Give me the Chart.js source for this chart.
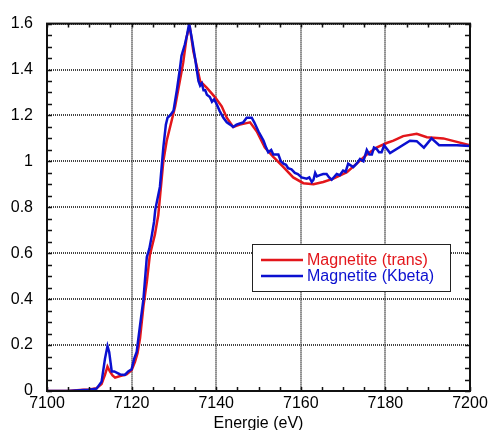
<!DOCTYPE html>
<html>
<head>
<meta charset="utf-8">
<script src="https://cdn.jsdelivr.net/npm/chart.js@4.4.0/dist/chart.umd.min.js"></script>
<style>
  html, body { margin: 0; padding: 0; background: #fff; }
</style>
</head>
<body>
<canvas id="xanes" width="488" height="430"></canvas>
<script>
// Fe K-edge XANES, magnetite: transmission vs Kbeta-detected
const transE = [
  7100, 7105, 7108.5, 7110, 7111.7, 7112.9, 7113.7, 7114.3, 7114.9, 7115.5,
  7116.1, 7117.3, 7118.8, 7120, 7120.8, 7121.4, 7122, 7122.8, 7123.6, 7124.3,
  7125.5, 7126.3, 7127.5, 7128.3, 7129.1, 7130.3, 7131.4, 7132.2, 7133, 7133.4,
  7133.8, 7134.6, 7136.2, 7137.8, 7139.7, 7141.3, 7142.5, 7144, 7145.6, 7148,
  7149.6, 7151.5, 7153.5, 7155.9, 7158.2, 7160.6, 7163, 7165.3, 7167.7, 7170.9,
  7173.2, 7175.6, 7177.9, 7180.3, 7181.9, 7184.2, 7187.4, 7189.8, 7193.7, 7196.9,
  7200
];
const transMu = [
  0, 0, 0.005, 0.007, 0.012, 0.03, 0.07, 0.106, 0.084, 0.068,
  0.058, 0.065, 0.072, 0.09, 0.127, 0.164, 0.23, 0.37, 0.475, 0.59,
  0.68, 0.765, 1.0, 1.09, 1.15, 1.24, 1.35, 1.43, 1.54, 1.57,
  1.58, 1.48, 1.35, 1.32, 1.28, 1.24, 1.19, 1.15, 1.16, 1.17,
  1.13, 1.06, 1.02, 0.975, 0.93, 0.905, 0.9, 0.91, 0.925, 0.953,
  0.99, 1.03, 1.06, 1.08, 1.09, 1.11, 1.12, 1.105, 1.1, 1.085,
  1.07
];

const kbetaE = [
  7100, 7105, 7109.8, 7111.7, 7112.9, 7113.7, 7114.3, 7114.7, 7115.3, 7115.9,
  7117.3, 7118.4, 7119.2, 7120, 7120.6, 7121.2, 7122, 7122.8, 7123.6, 7124.2,
  7124.8, 7125.3, 7125.6, 7126.7, 7127.5, 7128.1, 7128.5, 7129.1, 7129.9, 7130.7,
  7131.4, 7131.8, 7132.6, 7133.1, 7133.4, 7133.6, 7133.9, 7134.2, 7135, 7135.8,
  7136.2, 7136.6, 7137, 7137.4, 7137.8, 7138.5, 7139, 7139.5, 7140.1, 7140.8,
  7141.7, 7142.5, 7143.3, 7144, 7144.8, 7145.6, 7146.4, 7147.2, 7147.6, 7148.4,
  7149, 7150, 7150.6, 7151.2, 7151.8, 7152.3, 7153, 7153.5, 7154.2, 7154.7,
  7155.3, 7155.9, 7156.5, 7157, 7157.8, 7158.6, 7159.3, 7160.2, 7161.4, 7162,
  7162.6, 7163, 7163.4, 7163.8, 7164.5, 7165.3, 7166.1, 7166.7, 7167.3, 7168.5,
  7169.2, 7170, 7170.6, 7171.2, 7172.4, 7173.2, 7174, 7174.8, 7175.6, 7176.2,
  7176.8, 7177.3, 7177.9, 7178.5, 7179.1, 7179.7, 7181.1, 7185.8, 7187.4, 7189.1,
  7190.9, 7192.7, 7196.9, 7200
];
const kbetaMu = [
  0, 0, 0.005, 0.01, 0.04, 0.14, 0.196, 0.17, 0.085, 0.085,
  0.072, 0.07, 0.085, 0.095, 0.14, 0.17, 0.287, 0.4, 0.584, 0.62,
  0.68, 0.736, 0.79, 0.89, 1.06, 1.16, 1.19, 1.2, 1.22, 1.31,
  1.4, 1.46, 1.51, 1.55, 1.58, 1.6, 1.57, 1.54, 1.45, 1.35,
  1.33, 1.34, 1.31, 1.31, 1.29, 1.28, 1.26, 1.27, 1.25, 1.22,
  1.19, 1.17, 1.16, 1.15, 1.16, 1.165, 1.17, 1.19, 1.19, 1.19,
  1.17, 1.13, 1.11, 1.09, 1.06, 1.04, 1.05, 1.03, 1.03, 1.03,
  1.0, 0.99, 0.985, 0.97, 0.965, 0.95, 0.945, 0.93, 0.925, 0.93,
  0.91, 0.92, 0.95, 0.935, 0.94, 0.945, 0.945, 0.93, 0.92, 0.945,
  0.94, 0.96, 0.955, 0.99, 0.975, 0.99, 1.01, 1.0, 1.05, 1.03,
  1.03, 1.06, 1.055, 1.04, 1.04, 1.07, 1.036, 1.09, 1.088, 1.06,
  1.1, 1.07, 1.07, 1.067
];

const seriesNames = ['Magnetite (trans)', 'Magnetite (Kbeta)'];
const seriesColors = ['#e3161b', '#0b10d0'];

const FONT = 'Liberation Sans, Arial, Helvetica, sans-serif';

function toPoints(xs, ys) {
  return xs.map((x, i) => ({ x: x, y: ys[i] }));
}

// box around the plot, small inward ticks, and the legend inside the plot
const frameAndLegend = {
  id: 'frameAndLegend',
  afterDatasetsDraw(chart) {
    const c = chart.ctx;
    const a = chart.chartArea;
    const xs = chart.scales.x, ys = chart.scales.y;
    c.save();
    c.strokeStyle = '#111';
    c.lineWidth = 1.5;
    c.beginPath();
    for (let v = 7100; v <= 7200; v += 5) {
      const px = Math.round(xs.getPixelForValue(v)) + 0.5;
      c.moveTo(px, a.bottom); c.lineTo(px, a.bottom - 4);
      c.moveTo(px, a.top); c.lineTo(px, a.top + 4);
    }
    for (let k = 0; k <= 32; k++) {
      const py = Math.round(ys.getPixelForValue(k * 0.05)) + 0.5;
      c.moveTo(a.left, py); c.lineTo(a.left + 5, py);
      c.moveTo(a.right, py); c.lineTo(a.right - 5, py);
    }
    c.stroke();
    c.lineWidth = 2;
    c.strokeRect(a.left, a.top, a.right - a.left, a.bottom - a.top);
    c.restore();
  },
  afterDraw(chart) {
    const c = chart.ctx;
    const bx = 252, by = 244, bw = 198, bh = 47;
    c.save();
    c.fillStyle = '#fff';
    c.fillRect(bx, by, bw, bh);
    c.strokeStyle = '#222';
    c.lineWidth = 1;
    c.strokeRect(bx + 0.5, by + 0.5, bw, bh);
    c.font = '16px ' + FONT;
    c.textBaseline = 'middle';
    chart.data.datasets.forEach((ds, i) => {
      const y = by + 16 + i * 16;
      c.strokeStyle = ds.borderColor;
      c.lineWidth = 2.5;
      c.beginPath();
      c.moveTo(bx + 9, y); c.lineTo(bx + 51, y);
      c.stroke();
      c.fillStyle = ds.borderColor;
      c.fillText(ds.label, bx + 55, y + 1);
    });
    c.restore();
  }
};

const ctx = document.getElementById('xanes').getContext('2d');

const xanesChart = new Chart(ctx, {
  type: 'line',
  data: {
    datasets: [
      {
        label: seriesNames[0],
        data: toPoints(transE, transMu),
        borderColor: seriesColors[0],
        borderWidth: 2.5,
        pointRadius: 0,
        tension: 0,
        order: 1
      },
      {
        label: seriesNames[1],
        data: toPoints(kbetaE, kbetaMu),
        borderColor: seriesColors[1],
        borderWidth: 2.5,
        pointRadius: 0,
        tension: 0,
        order: 0
      }
    ]
  },
  options: {
    responsive: false,
    animation: false,
    layout: { padding: { top: 23, right: 18, left: 0, bottom: 0 } },
    plugins: {
      legend: { display: false },
      tooltip: { enabled: false }
    },
    scales: {
      x: {
        type: 'linear',
        min: 7100,
        max: 7200,
        ticks: {
          stepSize: 20,
          padding: 3,
          color: '#000',
          font: { family: FONT, size: 16 },
          maxRotation: 0,
          callback: v => String(v)
        },
        grid: { color: '#444', lineWidth: 2, drawTicks: false },
        border: { display: false, dash: [1, 1] },
        title: {
          display: true,
          text: 'Energie (eV)',
          color: '#000',
          font: { family: FONT, size: 16 },
          padding: { top: 0, bottom: -3 }
        },
        // the last tick label may run past the plot edge
        afterFit: s => { s.height = 39; s.paddingRight = 0; s.paddingLeft = 0; }
      },
      y: {
        min: 0,
        max: 1.6,
        ticks: {
          stepSize: 0.2,
          padding: 14,
          color: '#000',
          font: { family: FONT, size: 16 },
          callback: v => String(+v.toFixed(1))
        },
        grid: { color: '#444', lineWidth: 2, drawTicks: false },
        border: { display: false, dash: [1, 1] },
        afterFit: s => { s.width = 47; }
      }
    }
  },
  plugins: [frameAndLegend]
});
</script>
</body>
</html>
